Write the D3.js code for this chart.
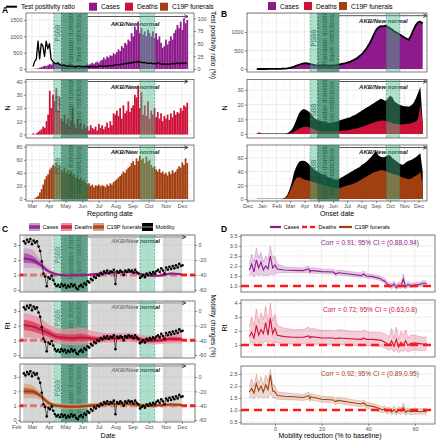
<!DOCTYPE html>
<html><head><meta charset="utf-8">
<script src="https://cdnjs.cloudflare.com/ajax/libs/d3/7.8.5/d3.min.js"></script>
<style>body{margin:0;background:#fff}svg{display:block}</style>
</head><body><svg id="c" width="438" height="440"></svg>
<script>
// ================= DATA =================
// A: reported counts, 3-day bins starting 2020-03-02
const reportStart = "2020-03-02", reportStep = 3;
const casesReported = [2,5,10,20,40,60,80,100,90,120,150,130,180,200,150,220,180,120,100,150,120,100,130,90,110,80,120,100,70,110,90,100,120,140,130,160,190,150,200,220,180,250,280,350,300,380,350,420,400,480,450,520,600,550,700,650,800,750,900,850,1100,1000,1300,1200,1450,1100,1250,1050,1150,1000,1200,1100,1000,1150,950,1100,900,1000,800,650,700,900,750,850,1000,900,1100,1200,1350,1250,1450,1200,1550,1400,1500];
const positivityRatio = [5,15,20,55,20,50,45,25,55,40,50,20,15,12,10,12,9,8,7,8,6,6,5,6,5,5,4,5,6,5,4,5,4,5,4,4,5,4,5,4,5,6,5,5,6,5,6,7,6,7,8,8,9,8,10,9,11,10,12,11,13,12,14,13,15,13,14,12,13,12,11,11,12,10,11,10,12,11,10,9,10,9,10,9,10,10,11,10,12,11,10,12,11,12,11];
const deathsReported = [1,0,1,2,3,4,6,5,10,15,33,20,30,25,35,18,28,12,10,15,8,12,6,10,20,8,5,12,7,9,4,8,5,6,3,7,5,4,6,3,8,5,7,4,6,9,5,10,7,16,15,18,14,20,12,22,16,18,25,17,20,22,30,28,37,20,32,15,22,14,25,12,18,15,20,13,17,12,16,10,14,12,15,11,16,13,18,15,17,16,20,18,22,21,24];
const funeralsReported = [0,1,3,5,10,15,22,30,35,38,45,48,52,50,55,48,52,45,42,48,40,44,38,42,35,38,32,36,30,33,28,30,25,22,24,20,22,18,21,20,22,19,21,20,18,22,20,24,22,26,28,30,33,35,38,42,40,45,48,50,55,58,52,62,58,66,60,62,55,65,58,60,52,48,50,45,42,46,40,42,38,40,36,42,38,44,40,42,46,50,48,56,52,62,55];

// B: by onset date, 5-day steps starting 2019-12-21
const onsetStart = "2019-12-21", onsetStep = 5;
const casesOnset = [0,0,0,0,0,1,1,1,2,3,5,8,12,18,30,45,65,90,115,135,150,155,145,130,115,105,100,95,100,98,95,90,95,100,105,115,130,145,160,180,200,230,260,300,350,400,480,560,660,780,920,1050,1120,1160,1150,1170,1140,1100,1060,1010,980,940,900,860,820,790,900,1050,1180,1260,1280,1230];
const deathsOnset = [0,1,0,0,0,0,0,0,0,0,0,0,0,0.1,0.3,0.8,1.5,2.5,3.5,4.3,4.8,5,4.8,4.2,3.5,2.8,2.3,2,1.8,1.7,1.6,1.6,1.7,1.7,1.8,1.9,2,2.2,2.4,2.6,2.9,3.2,3.6,4,4.5,5,5.5,6,6.6,7.2,7.8,8.3,8.7,9,9.2,9,8.6,8,7.5,7,6.8,6.6,6.5,6.6,6.8,7,7.3,7.8,8.5,10,20,6];
const deathsOnsetUpper = [0.3,1,0.3,0.3,0.3,0.3,0.3,0.3,0.3,0.3,0.3,0.3,0.3,0.5,1.5,3,6,10,14,16,17,16.5,15.5,14,12,10.5,9.5,9,8.5,8,8,7.5,7.5,8,8.5,9,9.5,10,10.5,11,11.5,12.5,13,14,15,16,17,18,19,20,21,22,23,24,23.5,22.5,24,26,25,22,21,20,19.5,19,19,18.5,19.5,21,24,28,32,8];
const funeralsOnset = [0,0,0,0,0,0,0,0,0,0,0,0,1,4,10,18,26,31,32,31,29,28,27,26,25,24,23,22,21,20.5,19,18,17,16,15.5,15.5,16.5,18,19,20,21,22,23.5,25,27,29,31,33,35,37,39,40,41,42,42,41,39.5,38,37,36,35,34,32,31,30,29,30,32,34,36,40,20];
const funeralsOnsetUpper = [0.5,0.5,0.5,0.5,0.5,0.5,0.5,0.5,0.5,0.5,0.5,0.5,2,6,14,25,40,48,54,56,56,55,52,48,45,42,40,38,36,35,33,31,30,29,28,29,31,33,35,37,39,41,43,45,47,50,52,55,58,62,66,70,64,62,61,62,64,64,60,57,55,52,50,51,54,56,57,59,61,64,67,40];

// C: mobility change (%), 3-day steps starting 2020-02-15
const mobilityStart = "2020-02-15", mobilityStep = 3;
const mobilityChange = [5,2,7,4,8,1,6,3,5,-2,-8,-22,-38,-42,-55,-43,-45,-41,-47,-52,-55,-53,-56,-52,-55,-53,-57,-54,-56,-52,-55,-53,-57,-59,-55,-53,-56,-51,-53,-48,-50,-45,-47,-42,-44,-40,-41,-37,-39,-35,-37,-34,-38,-35,-36,-33,-52,-35,-37,-34,-36,-40,-34,-36,-33,-35,-34,-37,-33,-36,-38,-44,-42,-40,-43,-38,-40,-37,-39,-36,-38,-35,-33,-36,-31,-34,-38,-30,-33,-29,-32,-28,-31,-27,-30,-25,-28,-27];

// C: Rt estimates
const rtDates = ["2020-02-15","2020-03-01","2020-03-16","2020-03-31","2020-04-15","2020-04-30","2020-05-15","2020-05-30","2020-06-14","2020-06-29","2020-07-14","2020-07-29","2020-08-13","2020-08-28","2020-09-12","2020-09-27","2020-10-12","2020-10-27","2020-11-11","2020-11-26","2020-12-01"];
const rtCasesMid  = [2.1,2.0,1.7,1.25,1.05,0.97,0.96,0.98,1.02,1.08,1.12,1.16,1.18,1.2,1.12,0.97,0.95,0.99,1.1,1.06,1.02];
const rtCasesLo95 = [1.45,1.48,1.4,1.1,0.97,0.9,0.9,0.92,0.96,1.02,1.06,1.1,1.12,1.14,1.06,0.91,0.89,0.93,1.04,1.0,0.96];
const rtCasesHi95 = [2.8,2.7,2.05,1.45,1.14,1.04,1.02,1.04,1.08,1.14,1.18,1.22,1.24,1.26,1.18,1.03,1.01,1.05,1.16,1.12,1.08];
const rtCasesLo50 = [1.8,1.78,1.55,1.18,1.01,0.94,0.93,0.95,0.99,1.05,1.09,1.13,1.15,1.17,1.09,0.94,0.92,0.96,1.07,1.03,0.99];
const rtCasesHi50 = [2.45,2.3,1.85,1.33,1.1,1.0,0.99,1.01,1.05,1.11,1.15,1.19,1.21,1.23,1.15,1.0,0.98,1.02,1.13,1.09,1.05];
const rtDeathsMid  = [2.05,1.95,1.75,1.5,1.25,1.18,1.15,1.2,1.15,1.1,1.12,1.15,1.18,1.2,1.1,0.98,0.98,1.02,1.1,1.08,1.05];
const rtDeathsLo95 = [1.2,1.18,1.1,0.95,0.8,0.72,0.68,0.7,0.75,0.8,0.85,0.86,0.9,0.9,0.82,0.73,0.72,0.76,0.8,0.79,0.78];
const rtDeathsHi95 = [2.85,2.75,2.5,2.1,1.85,1.78,1.8,1.85,1.7,1.55,1.5,1.5,1.5,1.52,1.42,1.33,1.32,1.36,1.45,1.44,1.42];
const rtDeathsLo50 = [1.7,1.62,1.45,1.25,1.05,0.97,0.94,0.98,0.98,0.97,1.0,1.02,1.05,1.06,0.97,0.86,0.86,0.9,0.96,0.95,0.93];
const rtDeathsHi50 = [2.4,2.3,2.05,1.75,1.48,1.42,1.4,1.45,1.35,1.25,1.25,1.28,1.3,1.33,1.24,1.12,1.12,1.16,1.25,1.23,1.2];
const rtFunMid  = [2.0,1.98,1.7,1.2,1.0,0.95,0.93,0.95,1.0,1.05,1.1,1.12,1.12,1.1,1.05,0.98,1.0,1.05,1.08,1.06,1.05];
const rtFunLo95 = [1.5,1.55,1.45,1.0,0.82,0.75,0.74,0.76,0.82,0.9,0.96,0.98,0.98,0.96,0.92,0.86,0.88,0.92,0.95,0.93,0.92];
const rtFunHi95 = [2.55,2.45,1.95,1.4,1.18,1.15,1.12,1.14,1.18,1.2,1.24,1.26,1.26,1.24,1.18,1.1,1.12,1.18,1.21,1.19,1.18];
const rtFunLo50 = [1.8,1.8,1.6,1.12,0.92,0.86,0.85,0.87,0.92,0.98,1.04,1.06,1.06,1.04,0.99,0.93,0.95,1.0,1.03,1.01,1.0];
const rtFunHi50 = [2.25,2.18,1.82,1.3,1.08,1.04,1.01,1.03,1.08,1.12,1.16,1.18,1.18,1.16,1.11,1.03,1.05,1.1,1.13,1.11,1.1];

// D: Rt vs mobility reduction
const mobReduction = [-11,-10,-9,-8,-7,-6,-5,-4,-3,-2,-1,0,1,4,8,12,14.5,15,15.5,20,25,26,27,32,37,38,39,42,45,46,47,48,49,50,51,52,53,54,55,56,57,58,60,62,64,65];
const dCasesMid = [1.8,2.1,1.7,2.3,1.9,2.2,1.8,2.0,1.85,2.5,1.9,2.05,1.85,1.8,1.78,1.77,1.85,1.7,1.78,1.72,1.7,1.6,1.66,1.6,1.52,1.6,1.5,1.47,1.38,1.3,1.25,1.1,1.05,0.98,1.1,0.92,1.05,1.0,1.35,0.95,1.08,1.02,1.05,1.08,1.15,1.1];
const dCasesLo  = [1.5,1.6,1.45,1.6,1.5,1.6,1.5,1.55,1.5,1.6,1.55,1.6,1.65,1.68,1.67,1.66,1.68,1.6,1.65,1.62,1.6,1.5,1.56,1.5,1.42,1.45,1.4,1.37,1.28,1.2,1.12,0.98,0.93,0.86,0.95,0.82,0.9,0.88,0.95,0.84,0.95,0.92,0.95,0.98,1.03,1.0];
const dCasesHi  = [2.1,2.6,2.2,2.9,2.4,2.7,2.2,2.5,2.3,3.0,2.4,2.5,2.1,1.95,1.92,1.9,2.0,1.85,1.92,1.85,1.83,1.75,1.8,1.72,1.65,1.75,1.62,1.58,1.5,1.42,1.38,1.22,1.18,1.12,1.25,1.05,1.2,1.15,1.6,1.08,1.22,1.14,1.16,1.2,1.28,1.22];
const dDeathsMid = [1.6,1.9,1.5,2.4,1.7,2.1,1.8,2.6,1.7,2.9,1.8,2.2,1.7,1.6,1.55,1.55,1.65,1.5,1.6,1.5,1.5,1.45,1.5,1.45,1.4,1.5,1.4,1.4,1.35,1.3,1.2,1.1,1.0,1.3,0.9,1.4,0.85,1.2,1.0,1.3,0.95,1.1,1.15,1.1,1.05,1.1];
const dDeathsLo  = [1.1,1.2,1.0,1.3,1.1,1.2,1.1,1.3,1.1,1.3,1.1,1.2,1.15,1.1,1.1,1.1,1.15,1.05,1.1,1.05,1.05,1.0,1.05,1.0,0.95,1.0,0.95,0.95,0.9,0.85,0.8,0.7,0.6,0.75,0.5,0.7,0.45,0.6,0.55,0.65,0.5,0.6,0.65,0.6,0.6,0.65];
const dDeathsHi  = [2.3,3.0,2.4,3.6,2.6,3.3,2.8,3.8,2.6,4.0,2.7,3.2,2.4,2.2,2.1,2.1,2.3,2.05,2.2,2.05,2.05,2.0,2.1,2.0,1.95,2.1,1.95,1.9,1.9,1.85,1.8,1.7,1.6,2.2,1.5,2.3,1.4,2.0,1.7,2.1,1.5,1.7,1.7,1.6,1.55,1.6];
const dFunMid = [1.75,1.9,1.7,2.1,1.8,2.0,1.75,2.05,1.85,2.45,1.8,1.75,1.6,1.57,1.55,1.52,1.6,1.47,1.55,1.45,1.42,1.35,1.4,1.32,1.25,1.3,1.2,1.15,1.05,1.0,1.05,0.95,1.0,0.92,1.02,0.9,1.0,0.95,1.1,0.9,0.98,0.93,0.95,0.93,0.95,0.92];
const dFunLo  = [1.5,1.55,1.45,1.6,1.5,1.55,1.5,1.55,1.5,1.7,1.5,1.5,1.45,1.43,1.42,1.4,1.45,1.35,1.42,1.33,1.3,1.22,1.28,1.2,1.13,1.17,1.08,1.03,0.93,0.88,0.92,0.82,0.87,0.8,0.88,0.78,0.86,0.82,0.9,0.78,0.85,0.8,0.83,0.82,0.83,0.8];
const dFunHi  = [2.0,2.3,2.0,2.5,2.1,2.4,2.05,2.45,2.2,2.7,2.1,2.0,1.75,1.72,1.68,1.65,1.75,1.6,1.68,1.57,1.55,1.48,1.53,1.45,1.37,1.43,1.32,1.27,1.17,1.12,1.18,1.08,1.13,1.05,1.16,1.02,1.15,1.08,1.3,1.02,1.1,1.05,1.07,1.05,1.08,1.05];
const corrLabels = ["Corr = 0.91; 95% CI = (0.88,0.94)","Corr = 0.72; 95% CI = (0.63,0.8)","Corr = 0.92; 95% CI = (0.89,0.95)"];

// Intervention periods
const periodsReport = {psbb:["2020-04-10","2020-04-24"], ramadan:["2020-04-24","2020-06-11"], psbb2:["2020-09-15","2020-10-12"], akbEnd:"2020-12-12", akbText:"2020-09-06"};
const periodsOnset  = {psbb:["2020-04-13","2020-04-29"], ramadan:["2020-04-29","2020-06-14"], psbb2:["2020-09-23","2020-10-22"], akbEnd:"2020-12-19", akbText:"2020-09-17"};
const periodsC      = {psbb:["2020-04-10","2020-04-24"], ramadan:["2020-04-24","2020-06-11"], psbb2:["2020-09-15","2020-10-12"], akbEnd:"2020-12-08", akbText:"2020-09-07"};
const grayPeriods = [["2020-02-14","2020-04-08"],["2020-06-17","2020-09-09"],["2020-10-27","2020-12-01"]];

// ================= DRAWING =================
const FONT = "'Liberation Sans', Arial, Helvetica, sans-serif";
const svg = d3.select("#c").attr("font-family", FONT);
const defs = svg.append("defs");
svg.append("rect").attr("width",438).attr("height",440).attr("fill","#fff");
const P = d3.timeParse("%Y-%m-%d");
const COL = {cases:"#8E1A8C", deaths:"#CE1138", fun:"#A23F10"};
const LIGHT_G = "#4dbb8f", DARK_G = "#1f7a55";

defs.append("marker").attr("id","arr").attr("viewBox","0 0 8 8").attr("refX",7).attr("refY",4)
  .attr("markerWidth",5).attr("markerHeight",5).attr("orient","auto")
  .append("path").attr("d","M1,1 L7,4 L1,7").attr("fill","none").attr("stroke","#333").attr("stroke-width",1.4);

function vline(s,x,y0,y1,col,w,dash){return s.append("line").attr("x1",x).attr("x2",x).attr("y1",y0).attr("y2",y1).attr("stroke",col).attr("stroke-width",w).attr("stroke-dasharray",dash||null);}
function hline(s,y,x0,x1,col,w,dash){return s.append("line").attr("x1",x0).attr("x2",x1).attr("y1",y).attr("y2",y).attr("stroke",col).attr("stroke-width",w).attr("stroke-dasharray",dash||null);}
function text(s,x,y,str,o){o=o||{};const t=s.append("text").attr("x",x).attr("y",y).text(str)
  .attr("font-size",o.size||6.5).attr("fill",o.fill||"#000").attr("text-anchor",o.anchor||"start")
  .attr("dominant-baseline",o.base||"central");
  if(o.weight)t.attr("font-weight",o.weight); if(o.style)t.attr("font-style",o.style);
  if(o.rot!=null)t.attr("transform",`rotate(${o.rot},${x},${y})`); return t;}

let clipN=0;
function makePanel(o){
  const id="clip"+(clipN++);
  defs.append("clipPath").attr("id",id).append("rect").attr("x",o.x0).attr("y",o.y0).attr("width",o.x1-o.x0).attr("height",o.y1-o.y0);
  const g=svg.append("g");
  g.append("rect").attr("x",o.x0).attr("y",o.y0).attr("width",o.x1-o.x0).attr("height",o.y1-o.y0).attr("fill","#fff");
  const c=g.append("g").attr("clip-path",`url(#${id})`);
  const gr=c.append("g");
  (o.xMinor||[]).forEach(v=>vline(gr,o.x(v),o.y0,o.y1,"#f3f3f3",0.5));
  (o.yMinor||[]).forEach(v=>hline(gr,o.y(v),o.x0,o.x1,"#f3f3f3",0.5));
  (o.xMajor||[]).forEach(v=>vline(gr,o.x(v),o.y0,o.y1,"#e4e4e4",0.7));
  (o.yMajor||[]).forEach(v=>hline(gr,o.y(v),o.x0,o.x1,"#e4e4e4",0.7));
  return {o,g,c};
}
function styleAxis(a){
  a.attr("font-size",5.5).attr("font-family",FONT);
  a.select(".domain").remove();
  a.selectAll(".tick line").attr("stroke","#444").attr("stroke-width",0.6);
  a.selectAll(".tick text").attr("fill","#4d4d4d");
}
function finish(pn){
  const o=pn.o;
  pn.g.append("rect").attr("x",o.x0).attr("y",o.y0).attr("width",o.x1-o.x0).attr("height",o.y1-o.y0)
    .attr("fill","none").attr("stroke","#5c5c5c").attr("stroke-width",0.8);
  if(o.leftTicks){const a=pn.g.append("g").attr("transform",`translate(${o.x0},0)`)
    .call(d3.axisLeft(o.y).tickValues(o.leftTicks).tickSize(2).tickPadding(1.5).tickFormat(o.leftFmt||(d=>String(d))));styleAxis(a);}
  if(o.rScale){const a=pn.g.append("g").attr("transform",`translate(${o.x1},0)`)
    .call(d3.axisRight(o.rScale).tickValues(o.rTicks).tickSize(2).tickPadding(1.5).tickFormat(d=>String(d)));styleAxis(a);}
  if(o.bTicks){const a=pn.g.append("g").attr("transform",`translate(0,${o.y1})`)
    .call(d3.axisBottom(o.x).tickValues(o.bTicks).tickSize(2).tickPadding(1).tickFormat(o.bFmt||(d=>String(d))));styleAxis(a);}
}
function bandRects(c,x,o,per){
  const list=[[per.psbb,LIGHT_G,0.45],[per.ramadan,DARK_G,0.7],[per.psbb2,LIGHT_G,0.45]];
  list.forEach(([r,col,op])=>{
    const a=x(P(r[0])),b=x(P(r[1]));
    c.append("rect").attr("x",a).attr("y",o.y0).attr("width",b-a).attr("height",o.y1-o.y0).attr("fill",col).attr("opacity",op);
    vline(c,a,o.y0,o.y1,"#2e6e54",0.5,"2,1.5"); vline(c,b,o.y0,o.y1,"#2e6e54",0.5,"2,1.5");
  });
}
function bandTexts(c,x,per,yP,yR,col){
  const xp=(x(P(per.psbb[0]))+x(P(per.psbb[1])))/2;
  text(c,xp,yP,"PSBB",{size:6.3,anchor:"middle",rot:-90,fill:col||"#1a1a1a"});
  const xm=(x(P(per.ramadan[0]))+x(P(per.ramadan[1])))/2;
  text(c,xm-4,yR,"Ramadan domestic",{size:6.3,anchor:"middle",rot:-90,fill:col||"#1a1a1a"});
  text(c,xm+3.5,yR,"travel restrictions",{size:6.3,anchor:"middle",rot:-90,fill:col||"#1a1a1a"});
}
function akb(c,x,per,yArrow,yText,col){
  c.append("line").attr("x1",x(P(per.ramadan[1]))).attr("x2",x(P(per.akbEnd))).attr("y1",yArrow).attr("y2",yArrow)
    .attr("stroke",col||"#555").attr("stroke-width",1).attr("marker-end","url(#arr)");
  text(c,x(P(per.akbText)),yText,"AKB/New normal",{size:6,anchor:"middle",weight:"bold",style:"italic",fill:"#1a1a1a"});
}
function bars(c,x,y,start,step,vals,col){
  const s=P(start);
  c.append("g").selectAll("rect").data(vals).join("rect")
    .attr("x",(v,i)=>x(d3.timeDay.offset(s,i*step)))
    .attr("width",(v,i)=>x(d3.timeDay.offset(s,(i+1)*step))-x(d3.timeDay.offset(s,i*step))+0.1)
    .attr("y",v=>y(v)).attr("height",v=>Math.max(0,y(0)-y(v))).attr("fill",col);
}
function areaSeries(c,x,y,start,step,vals,col){
  const s=P(start);
  c.append("path").datum(vals).attr("fill",col)
    .attr("d",d3.area().x((v,i)=>x(d3.timeDay.offset(s,i*step))).y0(y(0)).y1(v=>y(v)));
}
const monthsA=d3.timeMonth.range(P("2020-03-01"),P("2020-12-02"));
const monthsC=d3.timeMonth.range(P("2020-02-01"),P("2020-12-02"));
const monthsB=d3.timeMonth.range(P("2019-12-01"),P("2020-12-02"));
const midMonths=(arr)=>arr.map(m=>d3.timeDay.offset(m,14)).concat([d3.timeDay.offset(arr[0],-16)]);
const fmtMon=d3.timeFormat("%b");

const xA=d3.scaleTime().domain([P("2020-03-01"),P("2020-12-01")]).range([32,182]);
const xC=xA;
const xB=d3.scaleTime().domain([P("2019-12-01"),P("2020-12-01")]).range([247.5,418.5]);

// ---------- Panel A ----------
{
  const y=d3.scaleLinear().domain([0,1500]).range([69,20]);
  const yR=d3.scaleLinear().domain([0,100]).range([69,69-1550*(49/1500)]);
  const pn=makePanel({x0:26,x1:194,y0:13,y1:72,x:xA,y:y,xMajor:monthsA,xMinor:midMonths(monthsA),yMajor:[0,500,1000,1500],yMinor:[250,750,1250],
    leftTicks:[0,500,1000,1500],rScale:yR,rTicks:[0,25,50,75,100]});
  bars(pn.c,xA,y,reportStart,reportStep,casesReported,COL.cases);
  bandTexts(pn.c,xA,periodsReport,33,38);
  akb(pn.c,xA,periodsReport,16.5,23.5);
  bandRects(pn.c,xA,pn.o,periodsReport);
  const s=P(reportStart);
  pn.c.append("path").datum(positivityRatio).attr("fill","none").attr("stroke","#000").attr("stroke-width",1.3)
    .attr("stroke-linejoin","round")
    .attr("d",d3.line().x((v,i)=>xA(d3.timeDay.offset(s,i*reportStep+1)) ).y(v=>yR(v)));
  finish(pn);
}
{
  const y=d3.scaleLinear().domain([0,40]).range([134.5,81.5]);
  const pn=makePanel({x0:26,x1:194,y0:79.5,y1:138,x:xA,y:y,xMajor:monthsA,xMinor:midMonths(monthsA),yMajor:[0,10,20,30,40],yMinor:[5,15,25,35],leftTicks:[0,10,20,30,40]});
  bars(pn.c,xA,y,reportStart,reportStep,deathsReported,COL.deaths);
  bandTexts(pn.c,xA,periodsReport,104,102);
  akb(pn.c,xA,periodsReport,81.5,86.5);
  bandRects(pn.c,xA,pn.o,periodsReport);
  finish(pn);
}
{
  const y=d3.scaleLinear().domain([0,80]).range([199,146.7]);
  const pn=makePanel({x0:26,x1:194,y0:145,y1:201,x:xA,y:y,xMajor:monthsA,xMinor:midMonths(monthsA),yMajor:[0,20,40,60,80],yMinor:[10,30,50,70],leftTicks:[0,20,40,60,80],bTicks:monthsA,bFmt:fmtMon});
  bars(pn.c,xA,y,reportStart,reportStep,funeralsReported,COL.fun);
  bandTexts(pn.c,xA,periodsReport,166,170);
  akb(pn.c,xA,periodsReport,147.5,152);
  bandRects(pn.c,xA,pn.o,periodsReport);
  finish(pn);
}
// ---------- Panel B ----------
{
  const y=d3.scaleLinear().domain([0,1000]).range([69,32]);
  const pn=makePanel({x0:247,x1:427,y0:13,y1:72,x:xB,y:y,xMajor:monthsB,xMinor:midMonths(monthsB),yMajor:[0,500,1000,1500],yMinor:[250,750,1250],leftTicks:[0,500,1000]});
  areaSeries(pn.c,xB,y,onsetStart,onsetStep,casesOnset,COL.cases);
  const s=P(onsetStart);
  pn.c.append("path").datum(casesOnset).attr("fill","none").attr("stroke","#000").attr("stroke-width",1.8)
    .attr("d",d3.line().x((v,i)=>xB(d3.timeDay.offset(s,i*onsetStep))).y(v=>y(v)));
  bandTexts(pn.c,xB,periodsOnset,38,38);
  akb(pn.c,xB,periodsOnset,15.7,21);
  bandRects(pn.c,xB,pn.o,periodsOnset);
  finish(pn);
}
{
  const y=d3.scaleLinear().domain([0,30]).range([134,90]);
  const pn=makePanel({x0:247,x1:427,y0:79.5,y1:138,x:xB,y:y,xMajor:monthsB,xMinor:midMonths(monthsB),yMajor:[0,10,20,30],yMinor:[5,15,25],leftTicks:[0,10,20,30]});
  areaSeries(pn.c,xB,y,onsetStart,onsetStep,deathsOnsetUpper,"#000");
  areaSeries(pn.c,xB,y,onsetStart,onsetStep,deathsOnset,COL.deaths);
  bandTexts(pn.c,xB,periodsOnset,112,105);
  akb(pn.c,xB,periodsOnset,81.5,86.5);
  bandRects(pn.c,xB,pn.o,periodsOnset);
  finish(pn);
}
{
  const y=d3.scaleLinear().domain([0,60]).range([199,158]);
  const pn=makePanel({x0:247,x1:427,y0:145,y1:201,x:xB,y:y,xMajor:monthsB,xMinor:midMonths(monthsB),yMajor:[0,20,40,60],yMinor:[10,30,50,70],leftTicks:[0,20,40,60],bTicks:monthsB,bFmt:fmtMon});
  areaSeries(pn.c,xB,y,onsetStart,onsetStep,funeralsOnsetUpper,"#000");
  areaSeries(pn.c,xB,y,onsetStart,onsetStep,funeralsOnset,COL.fun);
  bandTexts(pn.c,xB,periodsOnset,168,172);
  akb(pn.c,xB,periodsOnset,147.5,152);
  bandRects(pn.c,xB,pn.o,periodsOnset);
  finish(pn);
}
// ---------- Panel C ----------
function panelC(y0,y1,yZero,yThree,rt,col,light,bottom,yP,yR){
  const y=d3.scaleLinear().domain([0,3]).range([yZero,yThree]);
  const yM=d3.scaleLinear().domain([-60,0]).range([yZero,yThree]);
  const pn=makePanel({x0:20,x1:195,y0:y0,y1:y1,x:xC,y:y,xMajor:monthsC,xMinor:midMonths(monthsC),yMajor:[0,1,2,3],yMinor:[0.5,1.5,2.5],
    leftTicks:[0,1,2,3],rScale:yM,rTicks:[-60,-40,-20,0],bTicks:bottom?monthsC:null,bFmt:fmtMon});
  const c=pn.c;
  hline(c,y(1),20,195,"#ff1a1a",3,"7,3");
  bandTexts(c,xC,periodsC,yP,yR,"#555");
  akb(c,xC,periodsC,y0+2,y0+6,"#666");
  grayPeriods.forEach(r=>{const a=xC(P(r[0])),b=xC(P(r[1]));
    c.append("rect").attr("x",a).attr("y",y0).attr("width",b-a).attr("height",y1-y0).attr("fill","#bdbdbd").attr("opacity",0.6);});
  bandRects(c,xC,pn.o,periodsC);
  const pts=rtDates.map((d,i)=>({d:P(d),m:rt[0][i],lo95:rt[1][i],hi95:rt[2][i],lo50:rt[3][i],hi50:rt[4][i]}));
  c.append("path").datum(pts).attr("fill",light).attr("opacity",0.75)
    .attr("d",d3.area().x(p=>xC(p.d)).y0(p=>y(p.lo95)).y1(p=>y(p.hi95)).curve(d3.curveMonotoneX));
  c.append("path").datum(pts).attr("fill",col).attr("opacity",0.55)
    .attr("d",d3.area().x(p=>xC(p.d)).y0(p=>y(p.lo50)).y1(p=>y(p.hi50)).curve(d3.curveMonotoneX));
  c.append("path").datum(pts).attr("fill","none").attr("stroke",col).attr("stroke-width",2)
    .attr("d",d3.line().x(p=>xC(p.d)).y(p=>y(p.m)).curve(d3.curveMonotoneX));
  const s=P(mobilityStart);
  c.append("path").datum(mobilityChange).attr("fill","none").attr("stroke","#000").attr("stroke-width",0.6)
    .attr("d",d3.line().x((v,i)=>xC(d3.timeDay.offset(s,i*mobilityStep))).y(v=>yM(v)));
  c.append("g").selectAll("circle").data(mobilityChange).join("circle")
    .attr("cx",(v,i)=>xC(d3.timeDay.offset(s,i*mobilityStep))).attr("cy",v=>yM(v)).attr("r",1.3).attr("fill","#000");
  finish(pn);
}
panelC(235,292,290,245,[rtCasesMid,rtCasesLo95,rtCasesHi95,rtCasesLo50,rtCasesHi50],COL.cases,"#c99bc8",false,255,252);
panelC(301,358,355,311,[rtDeathsMid,rtDeathsLo95,rtDeathsHi95,rtDeathsLo50,rtDeathsHi50],COL.deaths,"#ea8fa0",false,318,320);
panelC(364,422,420,377,[rtFunMid,rtFunLo95,rtFunHi95,rtFunLo50,rtFunHi50],COL.fun,"#d9a084",true,388,390);

// ---------- Panel D ----------
const xD=d3.scaleLinear().domain([0,60]).range([275,415]);
function panelD(o,yDom,yRng,ticks,fmt,minor,mid,lo,hi,col,label,labelY){
  const y=d3.scaleLinear().domain(yDom).range(yRng);
  const pn=makePanel(Object.assign({x:xD,y:y,xMajor:[0,20,40,60],xMinor:[-10,10,30,50],yMajor:ticks,yMinor:minor,leftTicks:ticks,leftFmt:fmt},o));
  const c=pn.c;
  const pts=mobReduction.map((v,i)=>[v,lo[i],hi[i],mid[i]]);
  c.append("path").datum(pts).attr("fill",col).attr("opacity",0.2)
    .attr("d",d3.area().x(p=>xD(p[0])).y0(p=>y(p[1])).y1(p=>y(p[2])));
  [1,2].forEach(k=>c.append("path").datum(pts).attr("fill","none").attr("stroke",col).attr("stroke-width",0.5).attr("opacity",0.45)
    .attr("d",d3.line().x(p=>xD(p[0])).y(p=>y(p[k]))));
  c.append("path").datum(pts).attr("fill","none").attr("stroke",col).attr("stroke-width",1.1)
    .attr("d",d3.line().x(p=>xD(p[0])).y(p=>y(p[3])));
  hline(c,y(1),o.x0,o.x1,"#ff1a1a",2.6,"8,5");
  text(c,370,labelY,label,{size:6.6,anchor:"middle",fill:col});
  finish(pn);
}
const f1=d=>d3.format(".1f")(d);
panelD({x0:241,x1:435,y0:235,y1:292},[1,3.5],[286,236],[1,1.5,2,2.5,3,3.5],f1,[0.75,1.25,1.75,2.25,2.75,3.25],dCasesMid,dCasesLo,dCasesHi,COL.cases,corrLabels[0],242);
panelD({x0:241,x1:435,y0:300,y1:357},[1,4],[345,303],[1,2,3,4],d=>String(d),[0.5,1.5,2.5,3.5],dDeathsMid,dDeathsLo,dDeathsHi,COL.deaths,corrLabels[1],309);
panelD({x0:241,x1:435,y0:366,y1:424,bTicks:[0,20,40,60]},[0.5,2.5],[422,374],[0.5,1,1.5,2,2.5],f1,[0.75,1.25,1.75,2.25],dFunMid,dFunLo,dFunHi,COL.fun,corrLabels[2],373);

// ---------- Titles, labels, legends ----------
text(svg,2,10,"A",{size:8.5,weight:"bold"});
text(svg,221,14,"B",{size:8.5,weight:"bold"});
text(svg,2,229,"C",{size:8.5,weight:"bold"});
text(svg,221,229,"D",{size:8.5,weight:"bold"});
text(svg,110,213.5,"Reporting date",{size:7,anchor:"middle"});
text(svg,337,213.5,"Onset date",{size:7,anchor:"middle"});
text(svg,108,435.5,"Date",{size:7,anchor:"middle"});
text(svg,330,435.5,"Mobility reduction (% to baseline)",{size:7,anchor:"middle"});
text(svg,7,108,"N",{size:7,anchor:"middle",rot:-90});
text(svg,224,108,"N",{size:7,anchor:"middle",rot:-90});
text(svg,7,326,"Rt",{size:7,anchor:"middle",rot:-90});
text(svg,224,328,"Rt",{size:7,anchor:"middle",rot:-90});
text(svg,213.5,45,"Test positivity ratio (%)",{size:6.8,anchor:"middle",rot:90});
text(svg,213.5,326,"Mobility changes (%)",{size:6.8,anchor:"middle",rot:90});

// Legend A
hline(svg,6.7,6,17,"#000",2);
text(svg,21,6.7,"Test positivity ratio",{size:6.6});
[[89,COL.cases,"Cases"],[125,COL.deaths,"Deaths"],[160,COL.fun,"C19P funerals"]].forEach(([x,c,l])=>{
  svg.append("rect").attr("x",x).attr("y",2.7).attr("width",8).attr("height",8).attr("fill",c);
  text(svg,x+12,6.7,l,{size:6.6});
});
// Legend B
[[268,COL.cases,"Cases"],[304,COL.deaths,"Deaths"],[339,COL.fun,"C19P funerals"]].forEach(([x,c,l])=>{
  svg.append("rect").attr("x",x).attr("y",2).attr("width",8).attr("height",8).attr("fill",c);
  text(svg,x+12,6,l,{size:6.6});
});
// Legend C
[[29,COL.cases,"#c99bc8","Cases"],[61,COL.deaths,"#ea8fa0","Deaths"],[93,COL.fun,"#d9a084","C19P funerals"],[142,"#000","#000","Mobility"]].forEach(([x,c,lc,l])=>{
  svg.append("rect").attr("x",x).attr("y",223).attr("width",11).attr("height",8).attr("fill",lc);
  svg.append("rect").attr("x",x).attr("y",225).attr("width",11).attr("height",4).attr("fill",c).attr("opacity",c==="#000"?1:0.6);
  hline(svg,227,x,x+11,c==="#000"?"#777":c,1.3);
  text(svg,x+13.5,227,l,{size:5.6});
});
// Legend D
hline(svg,227,270,281,COL.cases,2.2);
text(svg,283.5,227,"Cases",{size:5.6});
hline(svg,227,302,316,"#ff1a1a",2.4,"5,3");
text(svg,318.5,227,"Deaths",{size:5.6});
hline(svg,227,339,352,COL.fun,2.2);
text(svg,354.5,227,"C19P funerals",{size:5.6});
</script></body></html>
